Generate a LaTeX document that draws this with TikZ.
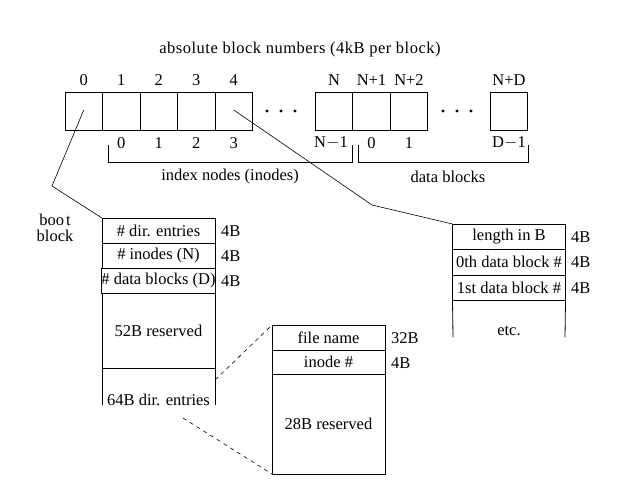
\documentclass[tikz,border=0pt]{standalone}
\usepackage{fontspec}
\setmainfont{Liberation Serif}
\newfontfamily\spacedfont[LetterSpace=3]{Liberation Serif}
\begin{document}
\begin{tikzpicture}[x=1pt,y=-1pt,
  every node/.style={font=\fontsize{16.5}{19}\selectfont, inner sep=0pt, outer sep=0pt},
  cell/.style={draw, line width=0.8pt, minimum width=37.5pt, minimum height=38pt},
  row/.style={draw, line width=0.8pt, minimum width=113pt, minimum height=#1},
  side/.style={line width=0.8pt, line cap=rect},
  lbl/.style={anchor=west},
  conn/.style={line width=0.6pt},
  dconn/.style={line width=0.6pt, dash pattern=on 4pt off 4pt}]
\useasboundingbox (0,0) rectangle (631,482);
% title
\node[font=\fontsize{16.5}{19}\spacedfont] (title) at (300,50) {absolute block numbers (4kB per block)};
% cells
\node[cell] (c0) at (83.75,111) {};
\node[cell] (c1) at (121.25,111) {};
\node[cell] (c2) at (158.75,111) {};
\node[cell] (c3) at (196.25,111) {};
\node[cell] (c4) at (233.75,111) {};
\node[cell] (cN) at (334,111) {};
\node[cell] (cN1) at (371.5,111) {};
\node[cell] (cN2) at (409,111) {};
\node[cell] (cND) at (509,111) {};
% dots
\foreach \x in {267,281,295,443,457,471} \fill (\x,111) circle (1.6pt);
% top numbers
\node (t0) at (83.75,80) {0};
\node (t1) at (121.25,80) {1};
\node (t2) at (158.75,80) {2};
\node (t3) at (196.25,80) {3};
\node (t4) at (233.75,80) {4};
\node (tN) at (334,80) {N};
\node (tN1) at (371.5,80) {N+1};
\node (tN2) at (409,80) {N+2};
\node (tND) at (509,80) {N+D};
% bottom numbers
\node (b1) at (121.25,143) {0};
\node (b2) at (158.75,143) {1};
\node (b3) at (196.25,143) {2};
\node (b4) at (233.75,143) {3};
\node (bN) at (331,143) {N$-$1};
\node (bN1) at (371.5,143) {0};
\node (bN2) at (409,143) {1};
\node (bND) at (509,143) {D$-$1};
% brackets
\draw[conn] (108,145) -- (108,162) -- (352,162) -- (352,145);
\draw[conn] (358,145) -- (358,162) -- (528,162) -- (528,145);
\node (inl) at (230,177) {index nodes (inodes)};
\node (dbl) at (448,177) {data blocks};
% boot block
\node[align=center] (bootl) at (55,228) {boo\hspace{2pt}t\\[-3pt]block};
\node[row=25pt] (bdir) at (158.5,230.5) {\# dir. entries};
\node[row=25pt] (bin) at (158.5,255.5) {\# inodes (N)};
\node[row=25pt] (bdb) at (158.5,280.5) {\# data blocks (D)};
\node[row=75pt] (bres) at (158.5,330.5) {52B reserved};
\draw[side] (bres.south west) -- (102,405);
\draw[side] (bres.south east) -- (215,405);
\node (bent) at (158.5,400) {64B dir. entries};
\node[lbl] (s1) at (221,231) {4B};
\node[lbl] (s2) at (221,256) {4B};
\node[lbl] (s3) at (221,281) {4B};
% file entry
\node[row=25pt] (fname) at (328.5,337.5) {file name};
\node[row=24pt] (fin) at (328.5,362) {inode \#};
\node[row=100pt] (fres) at (328.5,424) {28B reserved};
\node[lbl] (f1) at (391,338) {32B};
\node[lbl] (f2) at (391,363) {4B};
% inode
\node[row=25pt] (ilen) at (509,236.5) {length in B};
\node[row=26pt] (i0) at (509,262) {0th data block \#};
\node[row=25pt] (i1) at (509,287.5) {1st data block \#};
\draw[side] (i1.south west) -- (453,337);
\draw[side] (i1.south east) -- (565,337);
\node (ietc) at (509,331) {etc.};
\node[lbl] (g1) at (571,237) {4B};
\node[lbl] (g2) at (571,262) {4B};
\node[lbl] (g3) at (571,288) {4B};
% connectors
\coordinate (k1) at (52,186);
\coordinate (k2) at (372,205);
\draw[conn] ([yshift=1pt]c0.center) -- (k1) -- (bdir.north west);
\draw[conn] ([yshift=1pt]c4.center) -- (k2) -- (ilen.north west);
\coordinate (d1) at (215,380);
\coordinate (d2) at (183,418);
\draw[dconn] (d1) -- (fname.north west);
\draw[dconn] (d2) -- (fres.south west);
\end{tikzpicture}
\end{document}
